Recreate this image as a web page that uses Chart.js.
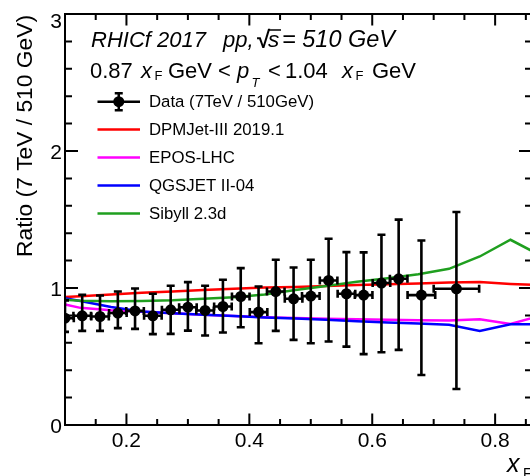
<!DOCTYPE html>
<html>
<head>
<meta charset="utf-8">
<script src="https://cdn.jsdelivr.net/npm/chart.js@4.4.1/dist/chart.umd.min.js"></script>
<style>
  html, body { margin: 0; padding: 0; overflow: hidden; background: #fff; }
  #box { width: 540px; height: 476px; }
</style>
</head>
<body>
<div id="box"><canvas id="myChart" width="540" height="476"></canvas></div>
<script>
// measured points
const xF = [0.100, 0.128, 0.157, 0.186, 0.214, 0.243, 0.272, 0.300, 0.328, 0.357, 0.386,
            0.415, 0.443, 0.472, 0.500, 0.529, 0.558, 0.586, 0.615, 0.643, 0.680, 0.737];
const xErr = [0.0143, 0.0143, 0.0143, 0.0143, 0.0143, 0.0143, 0.0143, 0.0143, 0.0143, 0.0143, 0.0143,
              0.0143, 0.0143, 0.0143, 0.0143, 0.0143, 0.0143, 0.0143, 0.0143, 0.0143, 0.0225, 0.037];
const ratio = [0.780, 0.797, 0.792, 0.817, 0.833, 0.797, 0.841, 0.860, 0.836, 0.865, 0.938,
               0.824, 0.974, 0.921, 0.941, 1.055, 0.958, 0.948, 1.036, 1.067, 0.948, 0.994];
const errUp = [0.130, 0.153, 0.153, 0.157, 0.163, 0.161, 0.175, 0.183, 0.180, 0.195, 0.207,
               0.187, 0.232, 0.229, 0.265, 0.305, 0.304, 0.312, 0.353, 0.432, 0.399, 0.561];
const errDown = [0.100, 0.110, 0.105, 0.110, 0.131, 0.134, 0.176, 0.171, 0.183, 0.190, 0.224,
                 0.227, 0.287, 0.300, 0.344, 0.446, 0.386, 0.431, 0.505, 0.519, 0.583, 0.731];

// model predictions
const modelX = [0.100, 0.125, 0.175, 0.225, 0.275, 0.325, 0.375, 0.425, 0.475,
                0.525, 0.575, 0.625, 0.675, 0.725, 0.775, 0.825, 0.875];
const dpmjet = [0.935, 0.940, 0.953, 0.965, 0.975, 0.985, 0.995, 1.003, 1.008,
                1.015, 1.022, 1.028, 1.033, 1.040, 1.043, 1.030, 1.020];
const epos   = [0.880, 0.855, 0.838, 0.826, 0.815, 0.805, 0.795, 0.787, 0.781,
                0.776, 0.771, 0.768, 0.765, 0.762, 0.772, 0.738, 0.800];
const qgsjet = [0.925, 0.905, 0.862, 0.828, 0.815, 0.805, 0.795, 0.785, 0.777,
                0.768, 0.758, 0.748, 0.740, 0.731, 0.687, 0.736, 0.736];
const sibyll = [0.915, 0.907, 0.903, 0.905, 0.910, 0.922, 0.932, 0.952, 0.985,
                1.015, 1.045, 1.072, 1.100, 1.140, 1.230, 1.352, 1.235];

const dataLabel = 'Data (7TeV / 510GeV)';
const modelNames = ['DPMJet-III 2019.1', 'EPOS-LHC', 'QGSJET II-04', 'Sibyll 2.3d'];
const modelColors = ['#ff0000', '#ff00ff', '#0000ff', '#1f9f1f'];
const xTicks = [0.2, 0.4, 0.6, 0.8];
const yTicks = [0, 1, 2, 3];

const FONT = '"Liberation Sans", Arial, sans-serif';

const toXY = (xs, ys) => xs.map((x, i) => ({ x: x, y: ys[i] }));

// error bars on data
const errorBars = {
  id: 'errorBars',
  afterDatasetsDraw(chart) {
    const { ctx, chartArea: { top, bottom, left, right }, scales: { x, y } } = chart;
    ctx.save();
    ctx.beginPath();
    ctx.rect(left, top, right - left, bottom - top);
    ctx.clip();
    ctx.strokeStyle = '#000';
    ctx.lineWidth = 2.6;
    const cap = 4;
    xF.forEach((xv, i) => {
      const px = x.getPixelForValue(xv);
      const py = y.getPixelForValue(ratio[i]);
      const yt = y.getPixelForValue(ratio[i] + errUp[i]);
      const yb = y.getPixelForValue(ratio[i] - errDown[i]);
      const xl = x.getPixelForValue(xv - xErr[i]);
      const xr = x.getPixelForValue(xv + xErr[i]);
      ctx.beginPath();
      ctx.moveTo(px, yt); ctx.lineTo(px, yb);
      ctx.moveTo(px - cap, yt); ctx.lineTo(px + cap, yt);
      ctx.moveTo(px - cap, yb); ctx.lineTo(px + cap, yb);
      ctx.moveTo(xl, py); ctx.lineTo(xr, py);
      ctx.moveTo(xl, py - cap); ctx.lineTo(xl, py + cap);
      ctx.moveTo(xr, py - cap); ctx.lineTo(xr, py + cap);
      ctx.stroke();
    });
    ctx.restore();
  }
};

// ROOT style frame with inward ticks, labels and texts
const frame = {
  id: 'frame',
  afterDraw(chart) {
    const { ctx, chartArea: { top, bottom, left, right }, scales: { x, y } } = chart;
    ctx.save();
    ctx.strokeStyle = '#000';
    ctx.lineWidth = 2;
    ctx.strokeRect(left, top, right - left, bottom - top);

    ctx.beginPath();
    for (let v = 0.1; v <= 0.8601; v += 0.05) {
      const px = x.getPixelForValue(v);
      const major = xTicks.some(t => Math.abs(t - v) < 1e-6);
      const len = major ? 11.5 : 6;
      ctx.moveTo(px, bottom); ctx.lineTo(px, bottom - len);
      ctx.moveTo(px, top); ctx.lineTo(px, top + len);
    }
    for (let v = 0; v <= 3.0001; v += 0.2) {
      const py = y.getPixelForValue(v);
      const major = yTicks.some(t => Math.abs(t - v) < 1e-6);
      const len = major ? 13 : 7;
      ctx.moveTo(left, py); ctx.lineTo(left + len, py);
      ctx.moveTo(right, py); ctx.lineTo(right - len, py);
    }
    ctx.stroke();

    ctx.fillStyle = '#000';
    ctx.font = '21px ' + FONT;
    ctx.textAlign = 'center';
    ctx.textBaseline = 'top';
    xTicks.forEach(t => ctx.fillText(t.toFixed(1), x.getPixelForValue(t), 431));
    ctx.textAlign = 'right';
    ctx.textBaseline = 'middle';
    yTicks.forEach(t => {
      let py = y.getPixelForValue(t) + 2;
      if (t === 3) py = 22;
      ctx.fillText(String(t), 62, py);
    });

    // axis titles
    ctx.save();
    ctx.translate(31.5, 257);
    ctx.rotate(-Math.PI / 2);
    ctx.textAlign = 'left';
    ctx.textBaseline = 'alphabetic';
    ctx.font = '22.8px ' + FONT;
    ctx.fillText('Ratio (7 TeV / 510 GeV)', 0, 0);
    ctx.restore();

    ctx.textAlign = 'left';
    ctx.textBaseline = 'alphabetic';
    ctx.font = 'italic 25px ' + FONT;
    ctx.fillText('x', 507, 472);
    ctx.font = '14px ' + FONT;
    ctx.fillText('F', 523, 478);

    // header lines
    ctx.font = 'italic 22px ' + FONT;
    ctx.fillText('RHICf 2017', 91, 47);
    ctx.fillText('pp,', 223, 47);
    ctx.font = 'bold 24px ' + FONT;
    ctx.fillText('\u221A', 257, 48);
    ctx.font = 'italic 22.5px ' + FONT;
    ctx.fillText('s', 268, 47);
    ctx.beginPath();
    ctx.lineWidth = 1.5;
    ctx.moveTo(268, 30); ctx.lineTo(281, 30);
    ctx.stroke();
    ctx.font = 'italic 23.5px ' + FONT;
    ctx.fillText('= 510 GeV', 282, 47);

    const norm = '22px ' + FONT;
    const ital = 'italic 22px ' + FONT;
    const sub = '13px ' + FONT;
    const pieces = [
      ['0.87', 90, 77.5, norm], ['x', 141, 77.5, ital], ['F', 154.5, 80, sub],
      ['GeV', 168, 77.5, norm], ['<', 218, 77.5, norm], ['p', 237, 77.5, ital],
      ['T', 251.5, 87, 'italic 13px ' + FONT], ['<', 268, 77.5, norm], ['1.04', 285, 77.5, norm],
      ['x', 342, 77.5, ital], ['F', 355.5, 80, sub], ['GeV', 372, 77.5, norm]
    ];
    pieces.forEach(([t, px, py, f]) => { ctx.font = f; ctx.fillText(t, px, py); });

    // legend
    const rowY = [101.7, 129.5, 157.6, 185.6, 213.4];
    const x0 = 97.5, x1 = 140, tx = 149;
    ctx.font = '16.8px ' + FONT;
    ctx.textBaseline = 'middle';
    ctx.lineWidth = 2.5;
    ctx.strokeStyle = '#000';
    ctx.beginPath();
    const cx = (x0 + x1) / 2, ry = rowY[0];
    ctx.moveTo(x0, ry); ctx.lineTo(x1, ry);
    ctx.moveTo(cx, ry - 8.5); ctx.lineTo(cx, ry + 8.5);
    ctx.moveTo(cx - 4, ry - 8.5); ctx.lineTo(cx + 4, ry - 8.5);
    ctx.moveTo(cx - 4, ry + 8.5); ctx.lineTo(cx + 4, ry + 8.5);
    ctx.stroke();
    ctx.beginPath();
    ctx.arc(cx, ry, 5.5, 0, Math.PI * 2);
    ctx.fill();
    ctx.fillText(dataLabel, tx, ry + 1);
    modelNames.forEach((name, i) => {
      const yy = rowY[i + 1];
      ctx.strokeStyle = modelColors[i];
      ctx.beginPath();
      ctx.moveTo(x0, yy); ctx.lineTo(x1, yy);
      ctx.stroke();
      ctx.fillStyle = '#000';
      ctx.fillText(name, tx, yy + 1);
    });
    ctx.restore();
  }
};

const modelSeries = [dpmjet, epos, qgsjet, sibyll];
const datasets = [{
  label: dataLabel,
  data: toXY(xF, ratio),
  backgroundColor: '#000',
  borderColor: '#000',
  pointRadius: 5.5,
  pointBorderWidth: 0,
  showLine: false,
  order: 0
}];
modelSeries.forEach((vals, i) => {
  datasets.push({
    label: modelNames[i],
    data: toXY(modelX, vals),
    borderColor: modelColors[i],
    borderWidth: 2.5,
    pointRadius: 0,
    showLine: true,
    tension: 0,
    order: 4 - i
  });
});

new Chart(document.getElementById('myChart'), {
  type: 'scatter',
  data: { datasets },
  options: {
    responsive: false,
    animation: false,
    devicePixelRatio: 1,
    layout: { padding: { left: 65, right: 8, top: 14, bottom: 51 } },
    scales: {
      x: { type: 'linear', min: 0.1, max: 0.86, display: false },
      y: { type: 'linear', min: 0, max: 3, display: false }
    },
    plugins: {
      legend: { display: false },
      tooltip: { enabled: false }
    }
  },
  plugins: [errorBars, frame]
});
</script>
</body>
</html>
